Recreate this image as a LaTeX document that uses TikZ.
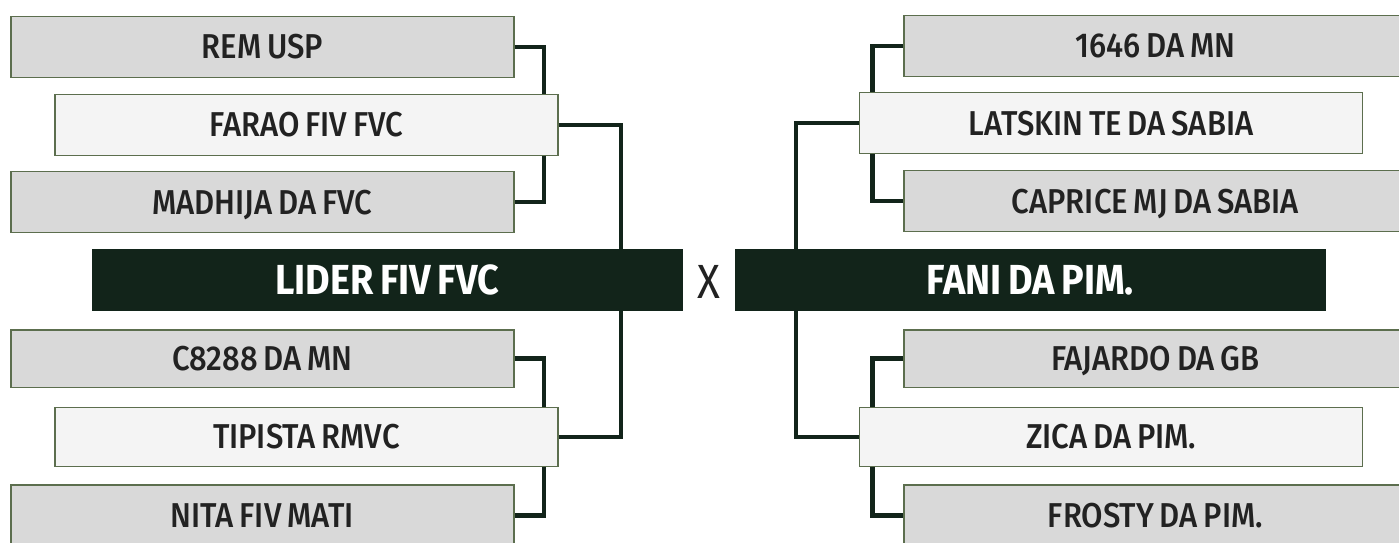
\documentclass[tikz,border=0pt]{standalone}
\usepackage{fontspec}
\setmainfont{Fira Sans Medium}[FakeStretch=0.9, WordSpace=0.75, BoldFont={Fira Sans Bold}, BoldFeatures={FakeStretch=0.9, WordSpace=0.75}]
\newfontfamily\xfont{Fira Sans}[FakeStretch=0.88]
\definecolor{dk}{HTML}{12241A}
\definecolor{bd}{HTML}{5C6E4E}
\definecolor{gr}{HTML}{D9D9D9}
\definecolor{lt}{HTML}{F4F4F4}
\definecolor{tx}{HTML}{222222}
\tikzset{
  teambox/.style={draw=bd, line width=1.2pt, minimum width=503pt, minimum height=61pt,
    inner sep=0pt, text=tx, font=\fontsize{34.5}{34.5}\selectfont,
    text height=23.8pt, text depth=0pt, anchor=north west},
  graybox/.style={teambox, fill=gr},
  litebox/.style={teambox, fill=lt},
  winbox/.style={fill=dk, draw=none, minimum width=591.5pt, minimum height=61.3pt,
    inner sep=0pt, text=white, font=\bfseries\fontsize{42}{42}\selectfont,
    text height=29pt, text depth=0pt, anchor=north west},
  conn/.style={draw=dk, line width=4.5pt, line join=miter}
}
\begin{document}
\begin{tikzpicture}[x=1pt,y=-1pt]
\useasboundingbox (0,0) rectangle (1399,542);
\fill[white] (0,0) rectangle (1399,542);
\clip (0,0) rectangle (1399,542);
% coordinates of bracket verticals
\coordinate (xL1) at (544,0);
\coordinate (xL2) at (621,0);
\coordinate (xR1) at (872.7,0);
\coordinate (xR2) at (796,0);
% left side
\node[graybox] (rem) at (10.3,15.7) {REM USP};
\node[litebox] (farao) at (54.3,93.7) {FARAO FIV FVC};
\node[graybox] (madh) at (10.3,171) {MADHIJA DA FVC};
\node[winbox] (lider) at (91.3,249) {LIDER FIV FVC};
\node[graybox, minimum height=57.4pt] (c82) at (10.3,329.3) {C8288 DA MN};
\node[litebox, minimum height=59pt] (tip) at (54.3,406.7) {TIPISTA RMVC};
\node[graybox] (nita) at (10.3,484.3) {NITA FIV MATI};
% right side
\node[graybox] (m1646) at (903.3,14.7) {1646 DA MN};
\node[litebox] (lat) at (859,92) {LATSKIN TE DA SABIA};
\node[graybox] (cap) at (903.3,170) {CAPRICE MJ DA SABIA};
\node[winbox] (fani) at (734.3,249) {FANI DA PIM.};
\node[graybox, minimum height=57.4pt] (faj) at (903.3,329.3) {FAJARDO DA GB};
\node[litebox, minimum height=59pt] (zica) at (859,406.7) {ZICA DA PIM.};
\node[graybox] (fro) at (903.3,484.3) {FROSTY DA PIM.};
% versus
\node[text=tx, font=\xfont\fontsize{48}{48}\selectfont, inner sep=0pt, text height=33pt, text depth=0pt] (vs) at (708.5,281.5) {X};
% connectors left
\draw[conn] (rem.east) -| (farao.north -| xL1);
\draw[conn] (farao.south -| xL1) |- (madh.east);
\draw[conn] (farao.east) -| (lider.north -| xL2);
\draw[conn] (lider.south -| xL2) |- (tip.east);
\draw[conn] (c82.east) -| (tip.north -| xL1);
\draw[conn] (tip.south -| xL1) |- (nita.east);
% connectors right
\draw[conn] (m1646.west) -| (lat.north -| xR1);
\draw[conn] (lat.south -| xR1) |- (cap.west);
\draw[conn] (lat.west) -| (fani.north -| xR2);
\draw[conn] (fani.south -| xR2) |- (zica.west);
\draw[conn] (faj.west) -| (zica.north -| xR1);
\draw[conn] (zica.south -| xR1) |- (fro.west);
\end{tikzpicture}
\end{document}
